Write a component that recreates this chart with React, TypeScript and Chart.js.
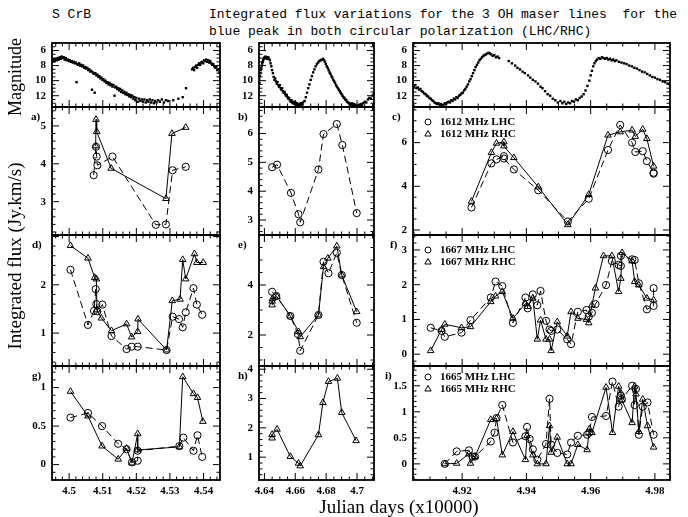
import React, { useEffect, useRef } from "react";
import { Chart, registerables } from "chart.js";
Chart.register(...registerables);

type XY = [number, number];

// ---------------- x axes (Julian days / 10000) ----------------
const col1XRange: [number, number] = [4.4949, 4.5449];
const col2XRange: [number, number] = [4.6365, 4.711];
const col3XRange: [number, number] = [4.9047, 4.9847];
const col1XTicks = [4.5, 4.51, 4.52, 4.53, 4.54];
const col1XLabels = ["4.5", "4.51", "4.52", "4.53", "4.54"];
const col2XTicks = [4.64, 4.66, 4.68, 4.7];
const col2XLabels = ["4.64", "4.66", "4.68", "4.7"];
const col3XTicks = [4.92, 4.94, 4.96, 4.98];
const col3XLabels = ["4.92", "4.94", "4.96", "4.98"];

// ---------------- y tick labels ----------------
const magTicks = [6, 8, 10, 12];
const aTicks = [3, 4, 5];
const bTicks = [3, 4, 5, 6];
const cTicks = [2, 4, 6];
const dTicks = [1, 2];
const eTicks = [2, 4];
const fTicks = [0, 1, 2, 3];
const gTicks = [0, 0.5, 1];
const hTicks = [1, 2, 3, 4];
const iTicks = [0, 0.5, 1, 1.5];

// ---------------- legends ----------------
const legend1612 = ["1612 MHz LHC", "1612 MHz RHC"];
const legend1667 = ["1667 MHz LHC", "1667 MHz RHC"];
const legend1665 = ["1665 MHz LHC", "1665 MHz RHC"];

// ---------------- optical magnitude ----------------
const mag1: XY[] = [
  [4.4951, 7.5], [4.4954, 7.2], [4.4957, 7.4], [4.496, 7.1], [4.4963, 7.3], [4.4966, 7.0], [4.4969, 7.2], [4.4972, 6.9],
  [4.4975, 7.1], [4.4978, 6.8], [4.4981, 7.0], [4.4984, 6.9], [4.4987, 7.2], [4.499, 7.0], [4.4993, 7.3], [4.4996, 7.2],
  [4.4999, 7.4], [4.5002, 7.3], [4.5005, 7.5], [4.5008, 7.4], [4.5011, 7.6], [4.5014, 7.5], [4.5017, 7.7], [4.502, 7.6],
  [4.5022, 10.2], [4.5024, 7.8], [4.5027, 7.9], [4.503, 7.7], [4.5033, 8.0], [4.5036, 7.9], [4.5039, 8.1], [4.5042, 8.0],
  [4.5045, 8.3], [4.5048, 8.2], [4.5051, 8.4], [4.5054, 8.3], [4.5057, 8.6], [4.506, 8.5], [4.5063, 8.8], [4.5066, 8.7],
  [4.5068, 11.2], [4.507, 8.9], [4.5073, 9.1], [4.5076, 11.6], [4.5078, 9.0], [4.5081, 9.3], [4.5084, 9.2], [4.5087, 9.5],
  [4.509, 9.4], [4.5093, 9.7], [4.5096, 9.6], [4.5099, 9.9], [4.5102, 9.8], [4.5105, 10.1], [4.5108, 10.0], [4.5111, 10.3],
  [4.5114, 10.2], [4.5117, 10.5], [4.512, 10.3], [4.5123, 10.6], [4.5126, 10.5], [4.5129, 10.8], [4.5132, 10.6],
  [4.5135, 12.0], [4.5137, 10.9], [4.514, 10.8], [4.5143, 11.1], [4.5146, 11.0], [4.5149, 11.3], [4.5152, 11.1],
  [4.5155, 11.5], [4.5158, 11.3], [4.5161, 11.6], [4.5164, 11.5], [4.5167, 11.8], [4.517, 11.6], [4.5173, 11.9],
  [4.5176, 11.8], [4.5179, 12.1], [4.5182, 11.9], [4.5185, 12.2], [4.5188, 12.0], [4.5191, 12.4], [4.5194, 12.2],
  [4.5197, 12.6], [4.52, 12.3], [4.5204, 12.8], [4.5208, 12.4], [4.5212, 12.7], [4.5216, 12.5], [4.522, 12.8],
  [4.5224, 12.5], [4.5228, 12.9], [4.5232, 12.6], [4.5236, 12.8], [4.524, 12.5], [4.5244, 12.9], [4.5248, 12.6],
  [4.5252, 13.0], [4.5256, 12.7], [4.526, 12.9], [4.5265, 12.6], [4.527, 12.8], [4.5276, 12.5], [4.5282, 12.9],
  [4.5288, 12.6], [4.5295, 12.7], [4.531, 12.6], [4.5325, 12.4], [4.5338, 12.2], [4.5348, 11.0],
  [4.5366, 8.5], [4.5369, 8.3], [4.5372, 8.6], [4.5375, 8.2], [4.5378, 8.0], [4.5381, 8.3], [4.5384, 7.9], [4.5387, 7.7],
  [4.539, 7.9], [4.5393, 7.6], [4.5396, 7.5], [4.5399, 7.7], [4.5402, 7.3], [4.5405, 7.4], [4.5408, 7.2], [4.5411, 7.5],
  [4.5414, 7.3], [4.5417, 7.6], [4.542, 7.4], [4.5423, 7.7], [4.5426, 7.9], [4.5429, 7.8], [4.5432, 8.1], [4.5435, 8.3],
  [4.5438, 8.2], [4.5441, 8.6], [4.5444, 8.5], [4.5447, 8.9],
];
const mag2: XY[] = [
  [4.6366, 9.8], [4.6368, 10.3], [4.6371, 9.4], [4.6374, 9.0], [4.6377, 8.6], [4.638, 8.3], [4.6383, 8.0], [4.6386, 7.7],
  [4.6389, 7.5], [4.6392, 7.3], [4.6395, 7.1], [4.6398, 7.0], [4.6401, 6.9], [4.6404, 7.0], [4.6407, 6.8], [4.641, 6.9],
  [4.6413, 7.0], [4.6416, 6.9], [4.6419, 7.1], [4.6422, 7.0], [4.6425, 6.9], [4.643, 7.1], [4.6435, 7.3], [4.644, 7.7],
  [4.6445, 8.1], [4.645, 8.6], [4.6455, 9.0], [4.646, 9.5], [4.6465, 9.9], [4.647, 9.7], [4.6475, 10.1], [4.648, 10.4],
  [4.6485, 10.2], [4.649, 10.6], [4.6495, 10.8], [4.65, 10.6], [4.6505, 11.0], [4.651, 11.2], [4.6515, 11.0], [4.652, 11.4],
  [4.6525, 11.6], [4.653, 11.5], [4.6535, 11.8], [4.654, 12.0], [4.6545, 11.9], [4.655, 12.2], [4.6555, 12.4],
  [4.656, 12.3], [4.6565, 12.6], [4.657, 12.8], [4.6575, 12.6], [4.658, 12.9], [4.6585, 13.0], [4.659, 12.8],
  [4.6595, 13.1], [4.66, 12.9], [4.6605, 13.2], [4.661, 13.0], [4.6615, 13.3], [4.662, 13.1], [4.6625, 13.4],
  [4.663, 13.2], [4.6635, 13.0], [4.664, 13.3], [4.6645, 13.1], [4.665, 12.9], [4.666, 12.7], [4.6668, 12.2],
  [4.6676, 11.6], [4.6684, 11.0], [4.6692, 10.5], [4.67, 9.9], [4.6708, 9.4], [4.6716, 8.9], [4.6724, 8.5], [4.6732, 8.1],
  [4.674, 7.8], [4.6748, 7.6], [4.6756, 7.4], [4.6764, 7.3], [4.6772, 7.2], [4.678, 7.1], [4.6786, 7.3], [4.6792, 7.5],
  [4.6798, 7.8], [4.6804, 8.1], [4.681, 8.3], [4.6816, 8.6], [4.6822, 8.9], [4.6828, 9.1], [4.6834, 9.4], [4.684, 9.6],
  [4.6846, 9.9], [4.6852, 10.1], [4.6858, 10.3], [4.6864, 10.6], [4.687, 10.8], [4.6876, 11.0], [4.6882, 11.2],
  [4.6888, 11.4], [4.6894, 11.6], [4.69, 11.8], [4.6906, 12.0], [4.6912, 12.2], [4.6918, 12.3], [4.6924, 12.5],
  [4.693, 12.6], [4.6936, 12.8], [4.6942, 12.9], [4.6948, 13.0], [4.6954, 13.1], [4.696, 13.2], [4.6966, 13.0],
  [4.6972, 13.3], [4.6978, 13.1], [4.6984, 13.4], [4.699, 13.2], [4.6996, 13.4], [4.7002, 13.3], [4.7008, 13.5],
  [4.7014, 13.2], [4.702, 13.4], [4.7026, 13.1], [4.7032, 13.3], [4.704, 13.0], [4.705, 12.8], [4.706, 12.9],
  [4.707, 12.5], [4.708, 12.3], [4.709, 12.4], [4.71, 12.0], [4.7108, 11.8],
];
const mag3: XY[] = [
  [4.905, 10.8], [4.9054, 10.6], [4.9058, 11.0], [4.9062, 10.9], [4.9066, 11.2], [4.907, 11.1], [4.9074, 11.4],
  [4.9078, 11.5], [4.9082, 11.7], [4.9086, 11.8], [4.909, 12.0], [4.9094, 12.1], [4.9098, 12.3], [4.9102, 12.4],
  [4.9106, 12.6], [4.911, 12.7], [4.9114, 12.9], [4.9118, 13.0], [4.9122, 13.1], [4.9126, 13.0], [4.913, 13.2],
  [4.9134, 13.1], [4.9138, 13.3], [4.9142, 13.2], [4.9146, 13.0], [4.915, 13.1], [4.9154, 12.9], [4.9158, 12.8],
  [4.9162, 12.9], [4.9166, 12.6], [4.917, 12.7], [4.9174, 12.4], [4.9178, 12.5], [4.9182, 12.2], [4.9186, 12.3],
  [4.919, 12.0], [4.9194, 11.9], [4.9198, 11.7], [4.9202, 11.6], [4.9206, 11.3], [4.921, 11.1], [4.9214, 10.8],
  [4.9218, 10.5], [4.9222, 10.1], [4.9226, 9.8], [4.923, 9.4], [4.9234, 9.0], [4.9238, 8.6], [4.9242, 8.2],
  [4.9246, 7.9], [4.925, 7.6], [4.9254, 7.3], [4.9258, 7.1], [4.9262, 6.9], [4.9266, 6.7], [4.927, 6.6], [4.9274, 6.5],
  [4.9278, 6.4], [4.9282, 6.3], [4.9286, 6.4], [4.929, 6.5], [4.9295, 6.7], [4.93, 6.6], [4.9305, 6.9], [4.931, 6.8],
  [4.9315, 7.0], [4.9345, 7.4], [4.9355, 7.7], [4.9365, 8.0], [4.9372, 8.3], [4.938, 8.5], [4.9388, 8.8], [4.9395, 9.0],
  [4.9405, 9.3], [4.9412, 9.6], [4.942, 9.9], [4.9428, 10.1], [4.9436, 10.4], [4.9444, 10.8], [4.945, 11.0],
  [4.9458, 11.4], [4.9466, 11.8], [4.9474, 12.0], [4.9482, 12.4], [4.949, 12.6], [4.9498, 12.9], [4.9506, 12.7],
  [4.9512, 13.0], [4.9518, 12.8], [4.9524, 13.1], [4.953, 12.9], [4.9536, 13.0], [4.9542, 12.7], [4.9548, 12.8],
  [4.9554, 12.5], [4.956, 12.6], [4.9566, 12.3], [4.9572, 12.1], [4.9578, 11.8], [4.9584, 11.3], [4.959, 10.7],
  [4.9596, 10.0], [4.96, 9.3], [4.9604, 8.7], [4.9608, 8.1], [4.9612, 7.7], [4.9616, 7.4], [4.962, 7.2], [4.9625, 7.0],
  [4.963, 7.1], [4.9635, 6.9], [4.964, 7.0], [4.9645, 7.1], [4.965, 7.0], [4.9655, 7.2], [4.966, 7.1], [4.9665, 7.3],
  [4.967, 7.2], [4.9675, 7.4], [4.968, 7.3], [4.9688, 7.5], [4.9696, 7.6], [4.9704, 7.7], [4.9712, 7.8], [4.972, 8.0],
  [4.9728, 8.1], [4.9736, 8.3], [4.9744, 8.4], [4.9752, 8.6], [4.976, 8.8], [4.9768, 8.9], [4.9776, 9.1], [4.9784, 9.3],
  [4.9792, 9.5], [4.98, 9.6], [4.9808, 9.8], [4.9816, 9.9], [4.9824, 10.1], [4.9832, 10.2], [4.984, 10.4], [4.9846, 10.5],
];

// ---------------- integrated flux (Jy.km/s) ----------------
const aLHC: XY[] = [[4.5073, 3.7], [4.508, 4.45], [4.5082, 4.19], [4.5084, 3.96], [4.5129, 4.19], [4.5258, 2.39], [4.5288, 2.4], [4.5308, 3.83], [4.5347, 3.92]];
const aRHC: XY[] = [[4.5079, 4.47], [4.508, 5.17], [4.5082, 4.85], [4.5125, 3.88], [4.5288, 3.08], [4.5306, 4.8], [4.5347, 4.96]];
const bLHC: XY[] = [[4.645, 4.83], [4.6482, 4.92], [4.6572, 3.94], [4.6621, 3.2], [4.6632, 2.92], [4.675, 4.75], [4.6783, 5.98], [4.6869, 6.33], [4.6905, 5.6], [4.6998, 3.24]];
const cLHC: XY[] = [[4.9229, 3.03], [4.9291, 5.05], [4.9307, 5.23], [4.933, 5.38], [4.933, 5.27], [4.9361, 4.77], [4.9437, 3.82], [4.9529, 2.39], [4.9594, 3.43], [4.9654, 5.66], [4.9692, 6.81], [4.9729, 6.0], [4.9739, 5.57], [4.9762, 5.61], [4.9775, 5.15], [4.9796, 4.62], [4.9796, 4.58]];
const cRHC: XY[] = [[4.9229, 3.31], [4.9291, 5.54], [4.9307, 5.97], [4.933, 6.03], [4.933, 5.84], [4.9361, 5.31], [4.9437, 3.97], [4.9529, 2.24], [4.9594, 3.62], [4.9654, 6.34], [4.9692, 6.49], [4.9729, 6.57], [4.9739, 6.28], [4.9762, 6.61], [4.9775, 6.18], [4.9796, 4.92]];
const dLHC: XY[] = [[4.5004, 2.31], [4.5056, 1.17], [4.5074, 1.46], [4.5079, 1.91], [4.5081, 1.6], [4.5084, 1.45], [4.5099, 1.59], [4.5126, 0.94], [4.5171, 0.67], [4.5186, 0.72], [4.5204, 0.72], [4.529, 0.65], [4.5308, 1.34], [4.5327, 1.29], [4.5338, 1.12], [4.5347, 1.43], [4.537, 1.93], [4.538, 1.59], [4.5396, 1.38]];
const dRHC: XY[] = [[4.5004, 2.81], [4.5056, 2.55], [4.5076, 2.15], [4.5081, 2.12], [4.5083, 1.48], [4.5096, 1.31], [4.5126, 1.05], [4.5171, 1.19], [4.5186, 0.92], [4.5204, 1.03], [4.5205, 1.29], [4.529, 0.65], [4.5307, 1.67], [4.533, 1.7], [4.5338, 2.52], [4.5347, 2.12], [4.5373, 2.64], [4.538, 2.46], [4.5399, 2.46]];
const eLHC: XY[] = [[4.645, 3.73], [4.6477, 3.56], [4.6568, 2.76], [4.6617, 2.04], [4.6632, 1.37], [4.675, 2.8], [4.6783, 4.93], [4.6815, 4.47], [4.6869, 5.29], [4.6901, 4.4], [4.6998, 2.49]];
const eRHC: XY[] = [[4.645, 3.2], [4.645, 3.35], [4.6452, 3.45], [4.6482, 3.53], [4.6568, 2.76], [4.6621, 2.13], [4.6632, 1.93], [4.675, 2.8], [4.6783, 4.73], [4.6811, 5.07], [4.6869, 5.56], [4.6901, 4.4], [4.6998, 2.93]];
const fLHC: XY[] = [[4.9102, 0.76], [4.9136, 0.67], [4.9146, 0.5], [4.9198, 0.62], [4.9226, 0.98], [4.9289, 1.63], [4.9304, 2.09], [4.9325, 1.96], [4.9358, 0.9], [4.9397, 1.63], [4.9404, 1.32], [4.942, 1.72], [4.9434, 1.41], [4.9444, 1.82], [4.9461, 0.96], [4.9472, 0.71], [4.9477, 0.67], [4.9496, 0.71], [4.9527, 0.43], [4.9539, 0.29], [4.956, 1.22], [4.9587, 1.27], [4.9594, 1.08], [4.9604, 1.19], [4.9615, 1.44], [4.9648, 1.99], [4.9666, 2.68], [4.9687, 2.57], [4.9694, 2.54], [4.9694, 2.83], [4.9729, 2.73], [4.9737, 2.71], [4.975, 2.04], [4.9775, 1.29], [4.9796, 1.39], [4.9796, 1.9]];
const fRHC: XY[] = [[4.9102, 0.1], [4.9136, 0.71], [4.9146, 0.86], [4.9198, 0.76], [4.9226, 0.79], [4.9289, 1.51], [4.9304, 1.67], [4.9325, 1.8], [4.9358, 1.03], [4.9397, 1.46], [4.9404, 1.37], [4.942, 1.61], [4.9434, 0.43], [4.9444, 0.98], [4.9461, 0.43], [4.9472, 0.43], [4.9477, 0.1], [4.9496, 0.93], [4.9527, 0.52], [4.9539, 1.22], [4.956, 1.03], [4.9587, 1.0], [4.9594, 0.9], [4.9604, 1.41], [4.9615, 1.9], [4.964, 2.83], [4.9666, 2.83], [4.9687, 1.8], [4.9694, 2.18], [4.9698, 2.92], [4.9729, 2.68], [4.9737, 2.09], [4.975, 1.99], [4.9775, 1.61], [4.9796, 1.56]];
const gLHC: XY[] = [[4.5004, 0.61], [4.5056, 0.67], [4.5098, 0.5], [4.5146, 0.27], [4.5171, 0.2], [4.5187, 0.03], [4.5204, 0.05], [4.5204, 0.18], [4.5328, 0.24], [4.534, 0.35], [4.537, 0.18], [4.5382, 0.38], [4.5396, 0.1]];
const gRHC: XY[] = [[4.5004, 0.95], [4.5056, 0.63], [4.5098, 0.24], [4.5146, 0.07], [4.5171, 0.21], [4.5187, 0.02], [4.5204, 0.4], [4.5204, 0.19], [4.5328, 0.23], [4.5338, 1.14], [4.537, 0.92], [4.5382, 0.87], [4.5398, 0.56]];
const hRHC: XY[] = [[4.645, 1.65], [4.645, 1.77], [4.6482, 1.95], [4.6568, 1.02], [4.6621, 0.79], [4.6632, 0.7], [4.675, 1.76], [4.6779, 2.86], [4.6815, 3.58], [4.6873, 3.69], [4.6901, 2.52], [4.6994, 1.56]];
const iLHC: XY[] = [[4.9146, 0.0], [4.9183, 0.24], [4.9221, 0.26], [4.9232, 0.14], [4.924, 0.14], [4.9289, 0.43], [4.9301, 0.6], [4.9307, 0.88], [4.9325, 1.13], [4.9358, 0.41], [4.9397, 0.53], [4.9402, 0.71], [4.941, 0.48], [4.942, 0.28], [4.9434, 0.08], [4.9461, 0.38], [4.9472, 1.25], [4.9477, 0.37], [4.9496, 0.21], [4.9527, 0.18], [4.9539, 0.41], [4.956, 0.54], [4.9589, 0.56], [4.9596, 0.6], [4.9604, 0.9], [4.9648, 0.92], [4.9668, 1.58], [4.9687, 1.1], [4.9694, 1.31], [4.9697, 1.24], [4.9729, 1.5], [4.9737, 1.13], [4.9741, 1.44], [4.975, 0.56], [4.9762, 1.1], [4.9777, 1.18], [4.9796, 0.56]];
const iRHC: XY[] = [[4.9146, 0.0], [4.9183, 0.01], [4.9221, 0.19], [4.9226, 0.01], [4.924, 0.14], [4.9289, 0.85], [4.9307, 0.87], [4.9325, 0.17], [4.9358, 0.62], [4.9397, 0.08], [4.9402, 0.54], [4.942, 0.17], [4.9434, 0.0], [4.9461, 0.0], [4.9472, 0.73], [4.9477, 0.22], [4.9496, 0.51], [4.9527, 0.0], [4.9539, 0.0], [4.956, 0.37], [4.9589, 0.27], [4.9596, 0.67], [4.9604, 0.6], [4.9648, 1.47], [4.9668, 0.6], [4.9687, 1.49], [4.9694, 1.36], [4.9697, 1.23], [4.9729, 0.79], [4.9737, 1.49], [4.9741, 1.34], [4.975, 0.62], [4.9762, 1.24], [4.9777, 0.73], [4.9796, 0.32]];

// ---------------- layout (page pixels of each frame) ----------------
const COLS = [
  { l: 52, r: 220, range: col1XRange, ticks: col1XTicks, labels: col1XLabels, major: 0.01, minor: 0.002 },
  { l: 259, r: 374, range: col2XRange, ticks: col2XTicks, labels: col2XLabels, major: 0.02, minor: 0.005 },
  { l: 413, r: 670, range: col3XRange, ticks: col3XTicks, labels: col3XLabels, major: 0.02, minor: 0.005 },
];
const ROWS = [
  { t: 43, b: 107 },
  { t: 107, b: 235 },
  { t: 235, b: 366 },
  { t: 366, b: 480 },
];
const ML = 50, MT = 20, MR = 20, MB = 20, MBX = 32;
const TICK_FONT = { family: '"Liberation Serif", serif', size: 11, weight: "bold" as const };

interface PanelSpec {
  key: string;
  col: number;
  row: number;
  yMin: number;
  yMax: number;
  reverse?: boolean;
  yTicks: number[];
  yMajor: number;
  yMinor: number;
  mag?: XY[];
  lhc?: XY[];
  rhc?: XY[];
  label?: string;
  labelDx?: number;
  legend?: string[];
  legendDy?: number[];
}

const PANELS: PanelSpec[] = [
  { key: "m1", col: 0, row: 0, yMin: 5, yMax: 13.5, reverse: true, yTicks: magTicks, yMajor: 2, yMinor: 0.5, mag: mag1 },
  { key: "m2", col: 1, row: 0, yMin: 5, yMax: 13.5, reverse: true, yTicks: magTicks, yMajor: 2, yMinor: 0.5, mag: mag2 },
  { key: "m3", col: 2, row: 0, yMin: 5, yMax: 13.5, reverse: true, yTicks: magTicks, yMajor: 2, yMinor: 0.5, mag: mag3 },
  { key: "a", col: 0, row: 1, yMin: 2.12, yMax: 5.5, yTicks: aTicks, yMajor: 1, yMinor: 0.2, lhc: aLHC, rhc: aRHC, label: "a)", labelDx: -21 },
  { key: "b", col: 1, row: 1, yMin: 2.48, yMax: 6.92, yTicks: bTicks, yMajor: 1, yMinor: 0.2, lhc: bLHC, label: "b)", labelDx: -21 },
  { key: "c", col: 2, row: 1, yMin: 1.77, yMax: 7.63, yTicks: cTicks, yMajor: 2, yMinor: 0.5, lhc: cLHC, rhc: cRHC, label: "c)", labelDx: -21, legend: legend1612, legendDy: [15, 27] },
  { key: "d", col: 0, row: 2, yMin: 0.32, yMax: 3.03, yTicks: dTicks, yMajor: 1, yMinor: 0.2, lhc: dLHC, rhc: dRHC, label: "d)", labelDx: -20 },
  { key: "e", col: 1, row: 2, yMin: 0.76, yMax: 6.0, yTicks: eTicks, yMajor: 2, yMinor: 0.5, lhc: eLHC, rhc: eRHC, label: "e)", labelDx: -21 },
  { key: "f", col: 2, row: 2, yMin: -0.34, yMax: 3.43, yTicks: fTicks, yMajor: 1, yMinor: 0.2, lhc: fLHC, rhc: fRHC, label: "f)", labelDx: -23, legend: legend1667, legendDy: [15, 27] },
  { key: "g", col: 0, row: 3, yMin: -0.2, yMax: 1.28, yTicks: gTicks, yMajor: 0.5, yMinor: 0.1, lhc: gLHC, rhc: gRHC, label: "g)", labelDx: -20 },
  { key: "h", col: 1, row: 3, yMin: 0.22, yMax: 4.11, yTicks: hTicks, yMajor: 1, yMinor: 0.2, rhc: hRHC, label: "h)", labelDx: -21 },
  { key: "i", col: 2, row: 3, yMin: -0.31, yMax: 1.88, yTicks: iTicks, yMajor: 0.5, yMinor: 0.1, lhc: iLHC, rhc: iRHC, label: "i)", labelDx: -28, legend: legend1665, legendDy: [11, 23] },
];

function tickValues(min: number, max: number, minor: number, major: number) {
  const out: { v: number; major: boolean }[] = [];
  const ratio = Math.round(major / minor);
  const k0 = Math.ceil(min / minor - 1e-6);
  const k1 = Math.floor(max / minor + 1e-6);
  for (let k = k0; k <= k1; k++) {
    out.push({ v: k * minor, major: ((k % ratio) + ratio) % ratio === 0 });
  }
  return out;
}

function makeFramePlugin(p: PanelSpec) {
  const col = COLS[p.col];
  return {
    id: "frame_" + p.key,
    afterDraw(chart: any) {
      const ctx = chart.ctx as CanvasRenderingContext2D;
      const { left, right, top, bottom } = chart.chartArea;
      const xs = chart.scales.x;
      const ys = chart.scales.y;
      ctx.save();
      ctx.strokeStyle = "#000";
      ctx.lineWidth = 1;
      ctx.beginPath();
      for (const t of tickValues(col.range[0], col.range[1], col.minor, col.major)) {
        const px = xs.getPixelForValue(t.v);
        const len = t.major ? 7 : 3.5;
        ctx.moveTo(px, bottom);
        ctx.lineTo(px, bottom - len);
        ctx.moveTo(px, top);
        ctx.lineTo(px, top + len);
      }
      for (const t of tickValues(p.yMin, p.yMax, p.yMinor, p.yMajor)) {
        const py = ys.getPixelForValue(t.v);
        const len = t.major ? 7 : 3.5;
        ctx.moveTo(left, py);
        ctx.lineTo(left + len, py);
        ctx.moveTo(right, py);
        ctx.lineTo(right - len, py);
      }
      ctx.stroke();
      ctx.lineWidth = 1.8;
      ctx.strokeRect(left, top, right - left, bottom - top);
      ctx.fillStyle = "#000";
      ctx.font = 'bold 11px "Liberation Serif", serif';
      ctx.textBaseline = "middle";
      ctx.textAlign = "left";
      if (p.label) ctx.fillText(p.label, left + (p.labelDx || -21), top + 10);
      if (p.legend && p.legendDy) {
        const mx = left + 15;
        const tx = left + 27;
        const y1 = top + p.legendDy[0];
        const y2 = top + p.legendDy[1];
        ctx.lineWidth = 1;
        ctx.beginPath();
        ctx.arc(mx, y1, 3, 0, Math.PI * 2);
        ctx.stroke();
        ctx.beginPath();
        ctx.moveTo(mx, y2 - 3.5);
        ctx.lineTo(mx + 3.2, y2 + 2);
        ctx.lineTo(mx - 3.2, y2 + 2);
        ctx.closePath();
        ctx.stroke();
        ctx.fillText(p.legend[0], tx, y1 + 0.5);
        ctx.fillText(p.legend[1], tx, y2 + 0.5);
      }
      ctx.restore();
    },
  };
}

function buildDatasets(p: PanelSpec) {
  const ds: any[] = [];
  if (p.mag) {
    ds.push({
      data: p.mag.map(([x, y]) => ({ x, y })),
      showLine: false,
      pointStyle: "rect",
      pointRadius: 1.7,
      pointBorderWidth: 0,
      pointBackgroundColor: "#000",
      backgroundColor: "#000",
      borderColor: "#000",
    });
  }
  if (p.lhc) {
    ds.push({
      data: p.lhc.map(([x, y]) => ({ x, y })),
      showLine: true,
      borderColor: "#000",
      borderWidth: 1,
      borderDash: [7, 4],
      pointStyle: "circle",
      pointRadius: 3.6,
      pointBorderWidth: 1,
      pointBorderColor: "#000",
      pointBackgroundColor: "rgba(0,0,0,0)",
      tension: 0,
    });
  }
  if (p.rhc) {
    ds.push({
      data: p.rhc.map(([x, y]) => ({ x, y })),
      showLine: true,
      borderColor: "#000",
      borderWidth: 1,
      pointStyle: "triangle",
      pointRadius: 3.8,
      pointBorderWidth: 1,
      pointBorderColor: "#000",
      pointBackgroundColor: "rgba(0,0,0,0)",
      tension: 0,
    });
  }
  return ds;
}

function Panel({ p }: { p: PanelSpec }) {
  const ref = useRef<HTMLCanvasElement>(null);
  const col = COLS[p.col];
  const row = ROWS[p.row];
  const bottomRow = p.row === ROWS.length - 1;
  const mb = bottomRow ? MBX : MB;
  const w = ML + (col.r - col.l) + MR;
  const h = MT + (row.b - row.t) + mb;
  useEffect(() => {
    const chart = new Chart(ref.current as HTMLCanvasElement, {
      type: "scatter",
      data: { datasets: buildDatasets(p) },
      options: {
        animation: false,
        responsive: false,
        maintainAspectRatio: false,
        devicePixelRatio: 1,
        layout: { padding: { left: 0, top: MT, right: MR, bottom: bottomRow ? 0 : MB } },
        plugins: { legend: { display: false }, tooltip: { enabled: false } },
        scales: {
          x: {
            type: "linear",
            min: col.range[0],
            max: col.range[1],
            grid: { display: false, drawTicks: false },
            border: { display: false },
            ticks: {
              display: bottomRow,
              autoSkip: false,
              maxRotation: 0,
              padding: 5,
              color: "#000",
              font: TICK_FONT,
              callback: (_v: any, i: number) => col.labels[i],
            },
            afterBuildTicks: (s: any) => {
              s.ticks = col.ticks.map((v) => ({ value: v }));
            },
            afterFit: (s: any) => {
              s.height = bottomRow ? MBX : 0;
            },
          },
          y: {
            type: "linear",
            min: p.yMin,
            max: p.yMax,
            reverse: !!p.reverse,
            grid: { display: false, drawTicks: false },
            border: { display: false },
            ticks: {
              autoSkip: false,
              padding: 6,
              color: "#000",
              font: TICK_FONT,
              callback: (v: any) => String(v),
            },
            afterBuildTicks: (s: any) => {
              s.ticks = p.yTicks.map((v) => ({ value: v }));
            },
            afterFit: (s: any) => {
              s.width = ML;
            },
          },
        },
      } as any,
      plugins: [makeFramePlugin(p)],
    });
    return () => chart.destroy();
  }, []);
  return (
    <canvas
      ref={ref}
      width={w}
      height={h}
      style={{ position: "absolute", left: col.l - ML, top: row.t - MT, width: w, height: h }}
    />
  );
}

export default function App() {
  const serif = '"Liberation Serif", "Times New Roman", serif';
  return (
    <div style={{ position: "fixed", left: 0, top: 0, width: 688, height: 517, background: "#fff", overflow: "hidden" }}>
      <div style={{ position: "absolute", left: 52, top: 6, font: '13px "Liberation Mono", monospace', lineHeight: "17px", whiteSpace: "pre", color: "#000" }}>
        S CrB
      </div>
      <div style={{ position: "absolute", left: 209, top: 6, font: '13px "Liberation Mono", monospace', lineHeight: "17px", whiteSpace: "pre", color: "#000" }}>
        {"Integrated flux variations for the 3 OH maser lines  for the\nblue peak in both circular polarization (LHC/RHC)"}
      </div>
      {PANELS.map((p) => (
        <Panel key={p.key} p={p} />
      ))}
      <div style={{ position: "absolute", left: 15, top: 77, transform: "translate(-50%, -50%) rotate(-90deg)", font: `18px ${serif}`, whiteSpace: "nowrap", color: "#000" }}>
        Magnitude
      </div>
      <div style={{ position: "absolute", left: 15, top: 256, transform: "translate(-50%, -50%) rotate(-90deg)", font: `19px ${serif}`, whiteSpace: "nowrap", color: "#000" }}>
        Integrated flux (Jy.km/s)
      </div>
      <div style={{ position: "absolute", left: 399, top: 507, transform: "translate(-50%, -50%)", font: `19px ${serif}`, whiteSpace: "nowrap", color: "#000" }}>
        Julian days (x10000)
      </div>
    </div>
  );
}
